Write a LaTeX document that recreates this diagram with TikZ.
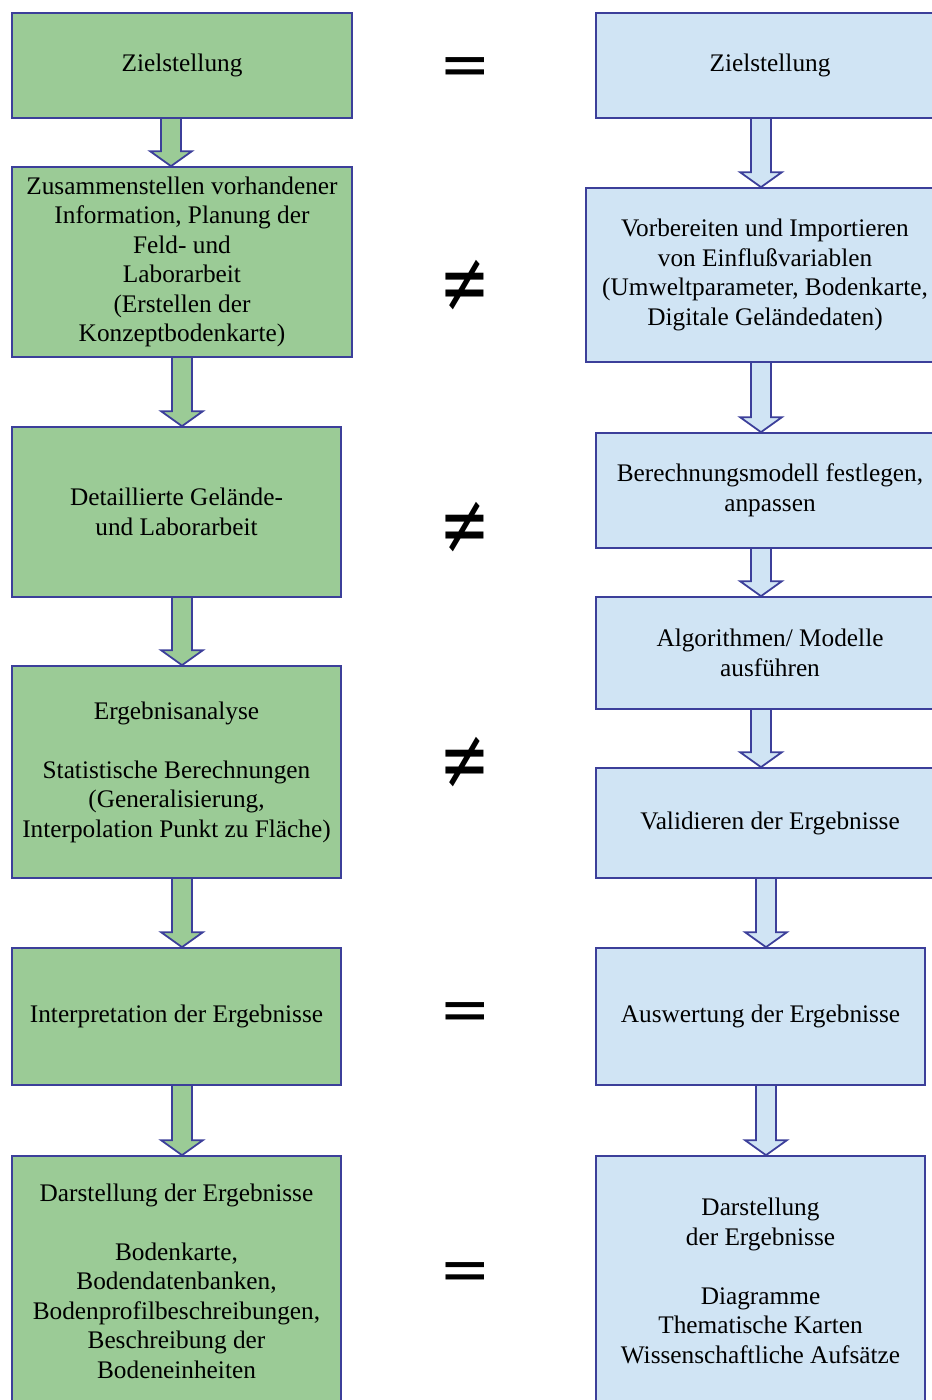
\documentclass[tikz,border=0pt]{standalone}
\usepackage{fontspec}
\usepackage{graphicx}
\setmainfont{Liberation Serif}
\newfontfamily\relfont{DejaVu Sans}
\usepackage{tikz}
\usetikzlibrary{calc, backgrounds}

\definecolor{boxgreen}{HTML}{9BCB96}
\definecolor{boxblue}{HTML}{D0E4F4}
\definecolor{boxline}{HTML}{3C3F9A}

\begin{document}
\begin{tikzpicture}[x=0.02cm, y=-0.02cm,
    box/.style={draw=boxline, line width=1pt, align=center, inner sep=0pt,
        font=\fontsize{14.4}{16.8}\selectfont},
    gbox/.style={box, fill=boxgreen},
    bbox/.style={box, fill=boxblue},
    rel/.style={font=\relfont\fontsize{35}{35}\selectfont},
    nrel/.style={font=\relfont\fontsize{48}{48}\selectfont},
    garrow/.style={draw=boxline, line width=1pt, fill=boxgreen, line join=miter},
    barrow/.style={draw=boxline, line width=1pt, fill=boxblue, line join=miter}
]
    \clip (0,0) rectangle (932,1400);
    \useasboundingbox (0,0) rectangle (932,1400);

    % left column
    \node[gbox, minimum width=6.8cm,  minimum height=2.1cm]  (l1) at (182,65.5)   {Zielstellung};
    \node[gbox, minimum width=6.8cm,  minimum height=3.8cm]  (l2) at (182,262)    {Zusammenstellen vorhandener\\Information, Planung der\\Feld- und\\Laborarbeit\\(Erstellen der\\Konzeptbodenkarte)};
    \node[gbox, minimum width=6.58cm, minimum height=3.4cm]  (l3) at (176.5,512)  {Detaillierte Gelände-\\und Laborarbeit};
    \node[gbox, minimum width=6.58cm, minimum height=4.24cm] (l4) at (176.5,772)  {Ergebnisanalyse\\~\\Statistische Berechnungen\\(Generalisierung,\\Interpolation Punkt zu Fläche)};
    \node[gbox, minimum width=6.58cm, minimum height=2.74cm] (l5) at (176.5,1016.5) {Interpretation der Ergebnisse};
    \node[gbox, minimum width=6.58cm, minimum height=5cm]    (l6) at (176.5,1281) {Darstellung der Ergebnisse\\~\\Bodenkarte,\\Bodendatenbanken,\\Bodenprofilbeschreibungen,\\Beschreibung der\\Bodeneinheiten};

    % right column
    \node[bbox, minimum width=6.96cm, minimum height=2.1cm]  (r1) at (770,65.5)   {Zielstellung};
    \node[bbox, minimum width=7.16cm, minimum height=3.48cm] (r2) at (765,275)    {Vorbereiten und Importieren\\von Einflußvariablen\\(Umweltparameter, Bodenkarte,\\Digitale Geländedaten)};
    \node[bbox, minimum width=6.96cm, minimum height=2.3cm]  (r3) at (770,490.5)  {Berechnungsmodell festlegen,\\anpassen};
    \node[bbox, minimum width=6.96cm, minimum height=2.24cm] (r4) at (770,653)    {Algorithmen/ Modelle\\ausführen};
    \node[bbox, minimum width=6.96cm, minimum height=2.2cm]  (r5) at (770,823)    {Validieren der Ergebnisse};
    \node[bbox, minimum width=6.58cm, minimum height=2.74cm] (r6) at (760.5,1016.5) {Auswertung der Ergebnisse};
    \node[bbox, minimum width=6.58cm, minimum height=5cm]    (r7) at (760.5,1281) {Darstellung\\der Ergebnisse\\~\\Diagramme\\Thematische Karten\\Wissenschaftliche Aufsätze};

    % comparison signs
    \node[rel]  (eq1) at (465,72)   {=};
    \node[nrel] (ne1) at (465,286)  {\scalebox{0.72}[1]{≠}};
    \node[nrel] (ne2) at (465,528)  {\scalebox{0.72}[1]{≠}};
    \node[nrel] (ne3) at (465,763)  {\scalebox{0.72}[1]{≠}};
    \node[rel]  (eq2) at (465,1017) {=};
    \node[rel]  (eq3) at (465,1277) {=};

    % block arrows
    \begin{scope}[on background layer]
    \foreach \a/\b/\dx/\st in {l1/l2/-11/garrow, l2/l3/0/garrow, l3/l4/5.5/garrow, l4/l5/5.5/garrow, l5/l6/5.5/garrow,
        r1/r2/-9/barrow, r2/r3/-4/barrow, r3/r4/-9/barrow, r4/r5/-9/barrow, r5/r6/-4/barrow, r6/r7/5.5/barrow} {
        \coordinate (t) at ($(\a.south)+(\dx,0)$);
        \coordinate (h) at (t |- \b.north);
        \draw[\st] ($(t)+(-10,0)$) -- ($(h)+(-10,-15)$) -- ($(h)+(-21,-15)$) -- (h)
            -- ($(h)+(21,-15)$) -- ($(h)+(10,-15)$) -- ($(t)+(10,0)$);
    }
    \end{scope}
\end{tikzpicture}
\end{document}
